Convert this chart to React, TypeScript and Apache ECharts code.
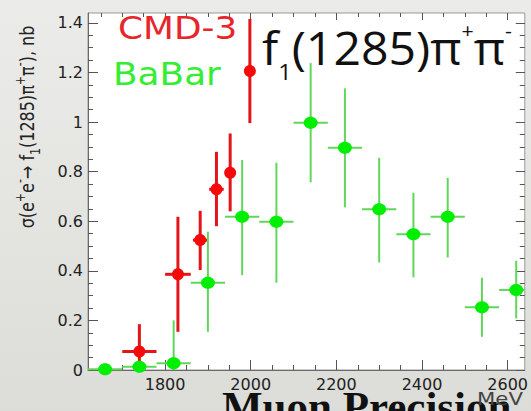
import React, { useEffect, useRef } from "react";
import * as echarts from "echarts";

// ---- axis ranges and ticks ----
const xMin = 1620;
const xMax = 2640;
const yMin = 0;
const yMax = 1.44;
const xMajorTicks = [1800, 2000, 2200, 2400, 2600];
const xMinorTicks = [1650, 1700, 1750, 1800, 1850, 1900, 1950, 2000, 2050, 2100, 2150, 2200, 2250, 2300, 2350, 2400, 2450, 2500, 2550, 2600];
const yMajorTicks = [0, 0.2, 0.4, 0.6, 0.8, 1, 1.2, 1.4];
const yMinorTicks = [0.05, 0.1, 0.15, 0.2, 0.25, 0.3, 0.35, 0.4, 0.45, 0.5, 0.55, 0.6, 0.65, 0.7, 0.75, 0.8, 0.85, 0.9, 0.95, 1, 1.05, 1.1, 1.15, 1.2, 1.25, 1.3, 1.35, 1.4];

// ---- CMD-3 ----
const cmdMass = [1740, 1830, 1882, 1920, 1952, 1998];
const cmdSigma = [0.075, 0.386, 0.524, 0.729, 0.796, 1.206];
const cmdMassErr = [40, 30, 17, 17, 10, 10];
const cmdErrLow = [0.08, 0.232, 0.121, 0.149, 0.156, 0.21];
const cmdErrHigh = [0.11, 0.232, 0.118, 0.151, 0.158, 0.21];

// ---- BaBar ----
const babarMass = [1660, 1740, 1820, 1900, 1980, 2060, 2140, 2220, 2300, 2380, 2460, 2540, 2620];
const babarSigma = [0.003, 0.013, 0.027, 0.352, 0.618, 0.598, 0.997, 0.896, 0.648, 0.548, 0.618, 0.253, 0.323];
const babarMassErr = [40, 40, 40, 40, 40, 40, 40, 40, 40, 40, 40, 40, 40];
const babarErrLow = [0.003, 0.013, 0.027, 0.198, 0.235, 0.246, 0.24, 0.24, 0.214, 0.174, 0.164, 0.119, 0.115];
const babarErrHigh = [0.01, 0.02, 0.173, 0.206, 0.229, 0.238, 0.241, 0.24, 0.208, 0.167, 0.157, 0.119, 0.118];

const legendCmd = "CMD-3";
const legendBabar = "BaBar";

function rows(m: number[], s: number[], me: number[], lo: number[], hi: number[]) {
  return m.map((v, i) => [v, s[i], me[i], lo[i], hi[i]]);
}

function makeRender(lineColor: string, lineWidth: number, markerColor: string, rx: number, ry: number) {
  return (params: any, api: any) => {
    const x = api.value(0);
    const y = api.value(1);
    const xe = api.value(2);
    const lo = api.value(3);
    const hi = api.value(4);
    const cs = params.coordSys;
    const c = api.coord([x, y]);
    const l = api.coord([x - xe, y]);
    const r = api.coord([x + xe, y]);
    const t = api.coord([x, y + hi]);
    const b = api.coord([x, y - lo]);
    const cx = (v: number) => Math.max(cs.x, Math.min(cs.x + cs.width, v));
    const cy = (v: number) => Math.max(cs.y, Math.min(cs.y + cs.height, v));
    return {
      type: "group",
      children: [
        { type: "line", shape: { x1: cx(l[0]), y1: c[1], x2: cx(r[0]), y2: c[1] }, style: { stroke: lineColor, lineWidth } },
        { type: "line", shape: { x1: c[0], y1: cy(t[1]), x2: c[0], y2: cy(b[1]) }, style: { stroke: lineColor, lineWidth } },
        { type: "ellipse", shape: { cx: c[0], cy: c[1], rx, ry }, style: { fill: markerColor } },
      ],
    };
  };
}

function xAxisDef(position: string, ticks: number[], len: number, labels: boolean, line: boolean) {
  return {
    type: "value",
    min: xMin,
    max: xMax,
    position,
    gridIndex: 0,
    axisLine: { show: line, onZero: false, lineStyle: { color: "#6a6a6a", width: 1 } },
    axisTick: { show: true, inside: true, length: len, customValues: ticks, lineStyle: { color: "#555", width: 1 } },
    axisLabel: labels
      ? { show: true, customValues: ticks, formatter: (v: number) => String(v), color: "#222", fontSize: 16, fontFamily: "DejaVu Sans", margin: 6 }
      : { show: false },
    splitLine: { show: false },
  };
}

function yAxisDef(position: string, ticks: number[], len: number, labels: boolean, line: boolean) {
  return {
    type: "value",
    min: yMin,
    max: yMax,
    position,
    gridIndex: 0,
    axisLine: { show: line, onZero: false, lineStyle: { color: "#6a6a6a", width: 1 } },
    axisTick: { show: true, inside: true, length: len, customValues: ticks, lineStyle: { color: "#555", width: 1 } },
    axisLabel: labels
      ? { show: true, customValues: ticks, color: "#222", fontSize: 16, fontFamily: "DejaVu Sans", margin: 5 }
      : { show: false },
    splitLine: { show: false },
  };
}

export default function App() {
  const ref = useRef<HTMLDivElement>(null);
  useEffect(() => {
    document.body.style.margin = "0";
    if (!ref.current) return;
    const chart = echarts.init(ref.current, null, { renderer: "svg" });
    const sup = { fontSize: 11, fontFamily: "DejaVu Sans", fill: "#222", verticalAlign: "top", padding: [1, 0, 0, 0] };
    const sub = { fontSize: 11, fontFamily: "DejaVu Sans", fill: "#222", verticalAlign: "bottom" };
    chart.setOption({
      animation: false,
      backgroundColor: "transparent",
      grid: { left: 88, top: 13, right: 6, bottom: 41, show: true, backgroundColor: "#ffffff", borderColor: "#999", borderWidth: 1 },
      xAxis: [
        xAxisDef("bottom", xMajorTicks, 10, true, true),
        xAxisDef("bottom", xMinorTicks, 5, false, false),
        xAxisDef("top", xMajorTicks, 7, false, false),
        xAxisDef("top", xMinorTicks, 4, false, false),
      ],
      yAxis: [
        yAxisDef("left", yMajorTicks, 10, true, true),
        yAxisDef("left", yMinorTicks, 5, false, false),
        yAxisDef("right", yMajorTicks, 9, false, false),
        yAxisDef("right", yMinorTicks, 5, false, false),
      ],
      series: [
        {
          type: "custom",
          name: legendCmd,
          coordinateSystem: "cartesian2d",
          xAxisIndex: 0,
          yAxisIndex: 0,
          clip: false,
          encode: { x: 0, y: 1 },
          data: rows(cmdMass, cmdSigma, cmdMassErr, cmdErrLow, cmdErrHigh),
          renderItem: makeRender("#e3151b", 3, "#f50a0a", 6, 6),
        },
        {
          type: "custom",
          name: legendBabar,
          coordinateSystem: "cartesian2d",
          xAxisIndex: 0,
          yAxisIndex: 0,
          clip: false,
          encode: { x: 0, y: 1 },
          data: rows(babarMass, babarSigma, babarMassErr, babarErrLow, babarErrHigh),
          renderItem: makeRender("#62d65a", 2, "#00ee00", 7, 6),
        },
      ],
      graphic: [
        {
          type: "text", x: 118, y: 28, scaleX: 1.12, z: 100,
          style: { text: legendCmd, fontSize: 32, fontFamily: "DejaVu Sans", fill: "#e6262b", align: "left", verticalAlign: "middle", textAlign: "left", textVerticalAlign: "middle" },
        },
        {
          type: "text", x: 113, y: 74, scaleX: 1.12, z: 100,
          style: { text: legendBabar, fontSize: 32, fontFamily: "DejaVu Sans", fill: "#33ee33", align: "left", verticalAlign: "middle", textAlign: "left", textVerticalAlign: "middle" },
        },
        {
          type: "text", x: 262, y: 12.5, scaleX: 1.07, z: 100,
          style: {
            text: "{m|f}{sb|1}{m|(1285)π}{sp|+}{m|π}{sp|-}",
            align: "left", verticalAlign: "top", textAlign: "left", textVerticalAlign: "top",
            rich: {
              m: { fontSize: 45, fontFamily: "Open Sans", fill: "#111", lineHeight: 70 },
              sb: { fontSize: 22, fontFamily: "Open Sans", fill: "#111", verticalAlign: "bottom" },
              sp: { fontSize: 20, fontFamily: "Open Sans", fill: "#111", verticalAlign: "top", padding: [7.5, 0, 0, 0] },
            },
          },
        },
        {
          type: "text", x: 27, y: 127, rotation: Math.PI / 2, scaleY: 1.25, z: 100,
          style: {
            text: "{m|σ(e}{sp|+}{m|e}{sp|-}{m|→ f}{sb|1}{m|(1285)π}{sp|+}{m|π}{sp|-}{m|), nb}",
            align: "center", verticalAlign: "middle", textAlign: "center", textVerticalAlign: "middle",
            rich: {
              m: { fontSize: 16, fontFamily: "DejaVu Sans", fill: "#222", lineHeight: 24 },
              sp: sup,
              sb: sub,
            },
          },
        },
        {
          type: "text", x: 222, y: 406, z: 100,
          style: { text: "Muon Precision", fontSize: 43, fontWeight: "bold", fontFamily: "Liberation Serif", fill: "#111", align: "left", verticalAlign: "middle", textAlign: "left", textVerticalAlign: "middle" },
        },
        {
          type: "text", x: 477, y: 399.5, scaleX: 1.25, z: 101,
          style: { text: "MeV", fontSize: 17, fontFamily: "DejaVu Sans", fill: "#444", align: "left", verticalAlign: "middle", textAlign: "left", textVerticalAlign: "middle" },
        },
      ],
    });
    return () => chart.dispose();
  }, []);
  return (
    <div
      ref={ref}
      style={{
        width: 531,
        height: 411,
        background: "linear-gradient(180deg, #ebebe9 0%, #e5e5e2 45%, #dcdcd8 100%)",
      }}
    />
  );
}
